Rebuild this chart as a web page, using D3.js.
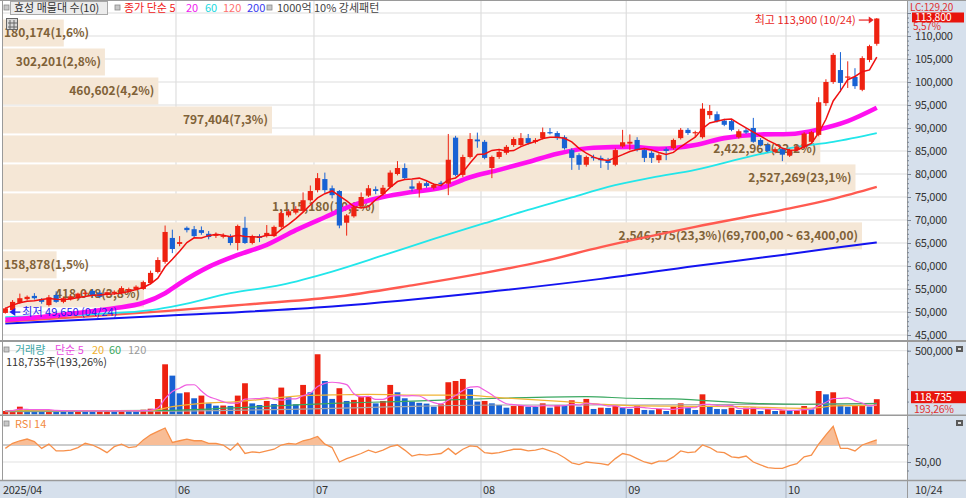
<!DOCTYPE html>
<html>
<head>
<meta charset="utf-8">
<script src="https://cdn.jsdelivr.net/npm/d3@7"></script>
<style>
  body { margin: 0; background: #fff; }
  svg { display: block; font-family: "Noto Sans CJK KR", "Noto Sans", sans-serif; }
  text { font-size: 11px; }
</style>
</head>
<body>
<svg class="chart" width="966" height="498"></svg>
<script>
// trading days per month (2025)
let monthDays = [
  ["04", [24,25,28,29,30]],
  ["05", [2,7,8,9,12,13,14,15,16,19,20,21,22,23,26,27,28,29,30]],
  ["06", [2,4,5,9,10,11,12,13,16,17,18,19,20,23,24,25,26,27,30]],
  ["07", [1,2,3,4,7,8,9,10,11,14,15,16,17,18,21,22,23,24,25,28,29,30,31]],
  ["08", [1,4,5,6,7,8,11,12,13,14,18,19,20,21,22,25,26,27,28,29]],
  ["09", [1,2,3,4,5,8,9,10,11,12,15,16,17,18,19,22,23,24,25,26,29,30]],
  ["10", [1,2,10,13,14,15,16,17,20,21,22,23,24]]
];

// daily candles
let open = [49800,50400,52000,52800,53500,52800,51500,53700,52200,52800,53000,54100,54600,54200,53700,54000,54100,54600,54900,55000,
  56300,58700,60900,66100,64800,68300,68000,67800,67000,66700,66500,66500,65000,68300,65000,66500,66500,66500,68500,71000,
  71600,72000,74300,76500,78900,76900,76300,69400,70800,73000,75300,76700,75600,77200,80000,81300,77300,76600,78000,77000,
  78100,77900,87900,79800,83700,87500,87000,81300,83700,84600,86300,86300,87800,87000,87800,89100,88900,88000,85200,84100,
  82000,83700,83500,83000,82000,86000,86600,87400,85200,84600,83000,85400,85600,87800,89600,88900,88000,92800,93000,91600,
  91500,88000,89500,90000,87400,86300,84800,85400,84000,85200,85800,87000,88500,95400,100000,102600,101000,101100,98300,104800,
  108300];
let high = [51000,52600,54000,53600,54100,53000,53700,54500,53300,53600,54200,54600,55000,54500,54500,54700,55600,55300,55800,56800,
  59000,61900,68800,67900,66500,68600,68700,68600,67600,67300,67100,66900,69000,70700,66800,66900,68900,68800,72000,72300,
  73000,76000,77500,80200,80300,77500,76500,71300,73200,76000,77600,77300,77600,80800,82800,82300,78700,78400,78400,78000,
  78500,88700,88300,84200,88900,89000,87400,84000,85300,86300,88000,88900,88700,87800,90100,90000,89300,88400,85600,84500,
  84000,84200,84000,83500,85600,89600,88600,88000,85600,85000,84500,85800,87700,90000,90000,89400,95400,95000,93600,92000,
  91800,89700,90000,92200,87800,86800,85800,85700,85500,86300,89100,89400,96700,100600,106300,106500,104500,103000,105600,108100,
  113900];
let low = [49650,50300,51800,52500,52700,51800,51200,52000,51900,52500,52800,53600,53300,53000,53400,53700,53900,54300,54700,54800,
  56000,58400,60500,62800,64300,67300,66200,66800,65800,66100,66000,64500,63400,64800,64700,65200,66200,66300,68200,70600,
  71200,71700,74000,76000,75900,74700,68200,66600,70500,72600,75000,75600,75300,77000,79700,78800,76200,74900,77000,76600,
  77300,75400,79500,79300,83400,85700,83200,79100,83300,84200,85900,86000,86400,86600,87500,88600,87400,85300,80900,80900,
  81600,82900,81300,80900,81700,85700,85200,84900,82600,82400,82400,83000,85300,87500,88500,88000,87700,92000,91200,90400,
  89300,87700,88700,86800,86000,84700,84500,82800,83700,84900,85500,86700,88200,94800,99600,97800,98700,98500,98000,104300,
  107900];
let close = [50800,52200,53000,53300,53000,52200,53200,52200,53000,53400,54000,54200,53500,53300,54300,54400,55200,55000,55500,56500,
  58500,61300,67400,63700,65200,67800,66500,67200,66300,66800,66600,65000,68700,65000,66500,66100,67200,68500,71500,71900,
  72400,74300,76300,79100,76500,75400,68800,71000,72800,75000,76900,76300,77000,80300,81300,79100,76800,78000,77400,77600,
  77800,83100,79800,83700,87600,87100,83500,83700,84800,85900,87600,87800,86700,87400,89100,88900,87800,85600,83500,82000,
  83700,83500,83000,82400,85200,86900,87000,85200,83500,83500,84100,85000,87400,89600,88900,89100,94200,93700,91500,90700,
  89600,89300,89000,87000,86300,85000,85400,84200,85200,86000,88800,89100,95600,100000,105900,99800,101200,99100,105200,107800,
  113800];
let volume = [26000,34000,60000,34000,30000,27000,33000,28000,25000,24000,33000,27000,25000,26000,28000,25000,33000,27000,24000,36000,
  44000,120000,393000,304000,165000,173000,126000,147000,86000,68000,69000,66000,147000,244000,86000,73000,105000,81000,210000,134000,
  79000,231000,173000,472000,262000,121000,205000,105000,113000,139000,142000,86000,105000,231000,173000,126000,100000,90000,84000,60000,
  79000,252000,262000,278000,199000,100000,105000,86000,73000,52000,65000,73000,60000,58000,86000,52000,73000,70000,110000,60000,
  121000,42000,52000,50000,68000,52000,42000,68000,34000,32000,42000,26000,60000,86000,52000,34000,157000,60000,42000,40000,
  52000,34000,52000,54000,26000,42000,26000,31000,29000,31000,65000,39000,183000,157000,173000,73000,60000,65000,72000,61438,
  118735];

// moving averages: [day index, value]
let ma20Pts = [[0,48300],[5,48900],[10,49800],[15,50800],[19,52000],[22,54100],[24,56200],[28,59800],[32,62400],[36,64600],
  [40,67800],[44,70600],[48,73300],[52,75000],[56,76100],[60,77000],[64,79300],[68,80900],[72,82600],[76,84400],[81,85700],
  [86,85900],[90,85500],[95,86300],[99,87800],[104,88600],[108,88700],[112,89700],[116,91500],[120,94400]];
let ma60Pts = [[0,48900],[13,49600],[20,50400],[24,51500],[31,54100],[38,55900],[45,58800],[52,62300],[59,65900],[66,69300],
  [72,72200],[78,74900],[83,77200],[89,79200],[95,80900],[103,84000],[109,85900],[114,87000],[120,88900]];
let ma120Pts = [[0,47900],[11,49000],[22,50200],[33,51600],[45,53200],[56,55800],[66,58500],[74,61000],[82,64100],[95,68500],
  [107,72200],[114,74600],[120,77200]];
let ma200Pts = [[0,47500],[22,49200],[45,51200],[66,54300],[82,57200],[95,60000],[107,62400],[114,63900],[120,65100]];

// volume moving averages
let vma20Pts = [[0,28000],[20,30000],[23,60000],[27,86000],[32,100000],[36,121000],[41,147000],[45,152000],[50,157000],[58,150000],
  [63,150000],[68,131000],[77,100000],[82,79000],[86,68000],[95,63000],[101,60000],[110,47000],[112,52000],[114,66000],[120,70000]];
let vma60Pts = [[0,27000],[22,31000],[32,52000],[45,86000],[54,100000],[68,126000],[80,139000],[86,126000],[92,121000],[103,86000],
  [110,79000],[120,84000]];
let vma120Pts = [[0,21000],[22,25000],[45,47000],[54,60000],[68,73000],[86,73000],[110,79000],[120,86000]];

// rsi 14
let rsi = [66,72,75,77,74,66,71,63,63,64,67,72,70,66,61,68,71,67,68,76,
  82,86,90,73,75,77,75,75,72,72,70,64,72,60,62,61,63,65,70,72,
  71,75,77,80,71,67,50,54,57,60,64,61,64,68,70,64,57,59,58,59,
  60,66,59,65,69,68,61,60,61,63,65,65,63,64,66,63,60,55,49,47,
  50,49,48,46.5,54,60,58,54,50,48,51,51,56,63,61,62,70,67,62,61,
  56,55,57,50,46.5,43.5,42.5,42.5,45.7,48,56,58,71,82,92,66,66,63,70,73,
  76];

// volume profile (매물대, 10 bins)
let profileFrom = [107500,101200,94900,88600,82300,76000,69700,63400,57100,50800];
let profileTo = [113800,107500,101200,94900,88600,82300,76000,69700,63400,57100];
let profileVol = [180174,302201,460602,797404,2422967,2527269,1115180,2546575,158878,418048];

// tick labels
let priceTicks = [45000,50000,55000,60000,65000,70000,75000,80000,85000,90000,95000,100000,105000,110000,115000];
let volTicks = [500000];
let rsiTicks = [50];
let monthLabels = ["06","07","08","09","10"];

let svg = d3.select("body").select(".chart");
let axisX = 907;
let panelBg = "#d6e0ec";
let upColor = "#ee2211", downColor = "#1862d4";

let dates = [];
monthDays.forEach(m => m[1].forEach(d => dates.push(m[0] + "/" + String(d).padStart(2, "0"))));

//scales
let x = d3.scaleBand().domain(dates).range([1.7, 880.4]);
let bw = x.bandwidth();
let cx = i => x(dates[i]) + bw / 2;
let yPrice = d3.scaleLinear().domain([45000, 115000]).range([335, 13]);
let yVol = d3.scaleLinear().domain([0, 500000]).range([414.3, 350.7]);
let yRsi = d3.scaleLinear().domain([50, 70]).range([462, 445]);
let fmt = d3.format(",");
let comma = s => s.replace(".", ",");

// backgrounds
svg.append("rect").attr("x", 0).attr("y", 0).attr("width", 966).attr("height", 498).attr("fill", "#fff");
svg.append("rect").attr("x", axisX).attr("y", 0).attr("width", 966 - axisX).attr("height", 498).attr("fill", panelBg);
svg.append("rect").attr("x", 0).attr("y", 481).attr("width", axisX).attr("height", 17).attr("fill", panelBg);

// clip paths for the three panels
let defs = svg.append("defs");
[["clipMain", 1, 340], ["clipVol", 342, 73], ["clipRsi", 416, 64]].forEach(c => {
  defs.append("clipPath").attr("id", c[0]).append("rect")
    .attr("x", 3).attr("y", c[1]).attr("width", axisX - 3).attr("height", c[2]);
});
defs.append("clipPath").attr("id", "clipOver70").append("rect")
  .attr("x", 3).attr("y", 416).attr("width", axisX - 3).attr("height", yRsi(70) - 416);

// gridlines
let grid = svg.append("g").attr("id", "grid");
grid.selectAll(".hgrid").data(priceTicks).enter().append("line")
  .attr("x1", 3).attr("x2", axisX).attr("y1", d => yPrice(d)).attr("y2", d => yPrice(d))
  .attr("stroke", "#dedede").attr("stroke-width", 1.2);
// first trading day of each labelled month
let monthStarts = monthLabels.map(m => dates.find(d => d.slice(0, 2) == m));
grid.selectAll(".vgrid").data(monthStarts).enter().append("line")
  .attr("x1", d => x(d)).attr("x2", d => x(d)).attr("y1", 1).attr("y2", 480)
  .attr("stroke", "#dedede").attr("stroke-width", 1.2);
grid.selectAll(".vband").data(monthStarts).enter().append("line")
  .attr("x1", d => x(d)).attr("x2", d => x(d)).attr("y1", 481).attr("y2", 498)
  .attr("stroke", "#aab4c2").attr("stroke-width", 1);
grid.append("line").attr("x1", 3).attr("x2", axisX).attr("y1", yVol(500000)).attr("y2", yVol(500000))
  .attr("stroke", "#e2e2e2");
grid.append("line").attr("x1", 3).attr("x2", axisX).attr("y1", yRsi(50)).attr("y2", yRsi(50))
  .attr("stroke", "#e2e2e2").attr("stroke-width", 1.2);
grid.append("line").attr("x1", 3).attr("x2", axisX).attr("y1", yRsi(70)).attr("y2", yRsi(70))
  .attr("stroke", "#9a9a9a").attr("stroke-width", 1.2);

// price panel
let plot = svg.append("g").attr("id", "plot").attr("clip-path", "url(#clipMain)");

// volume profile bars
let profTotal = d3.sum(profileVol);
let profMax = d3.max(profileVol);
let xProf = d3.scaleLinear().domain([0, profMax]).range([0, 859]);
let profile = profileVol.map((v, i) => ({v: v, from: profileFrom[i], to: profileTo[i]}));
plot.selectAll(".prof").data(profile).enter().append("rect")
  .attr("x", 3).attr("y", d => yPrice(d.to) + 1)
  .attr("width", d => xProf(d.v))
  .attr("height", d => yPrice(d.from) - yPrice(d.to) - 2)
  .attr("fill", "#f5e7d6");
plot.selectAll(".profLabel").data(profile).enter().append("text")
  .attr("y", d => (yPrice(d.from) + yPrice(d.to)) / 2)
  .attr("dy", "0.36em")
  .style("font-size", "12px").style("font-weight", "bold")
  .attr("fill", "#806238")
  .text(d => {
    let s = fmt(d.v) + "(" + comma(d3.format(".1f")(d.v / profTotal * 100)) + "%)";
    if (d.v == profMax) {
      s += "(" + comma(d3.format(",.2f")(d.to)) + " ~ " + comma(d3.format(",.2f")(d.from)) + ")";
    }
    return s;
  })
  .each(function(d) {
    let len = this.getComputedTextLength();
    let end = 3 + xProf(d.v) - 4;
    d3.select(this).attr("x", Math.max(4, end - len));
  });

// long moving averages
let maLine = d3.line().x(d => cx(d[0])).y(d => yPrice(d[1])).curve(d3.curveMonotoneX);
[[ma200Pts, "#1414f0", 2], [ma120Pts, "#ff5a50", 2.4], [ma60Pts, "#22e6ea", 1.8], [ma20Pts, "#ff10f0", 4.6]]
  .forEach(m => {
    plot.append("path").datum(m[0]).attr("fill", "none")
      .attr("stroke", m[1]).attr("stroke-width", m[2]).attr("stroke-linejoin", "round")
      .attr("d", maLine);
  });

// candles
let candles = dates.map((d, i) => ({i: i, o: open[i], h: high[i], l: low[i], c: close[i]}));
let candle = plot.selectAll(".candle").data(candles).enter().append("g");
candle.append("line")
  .attr("x1", d => cx(d.i)).attr("x2", d => cx(d.i))
  .attr("y1", d => yPrice(d.h)).attr("y2", d => yPrice(d.l))
  .attr("stroke", d => d.c >= d.o ? upColor : downColor).attr("stroke-width", 1);
candle.append("rect")
  .attr("x", d => cx(d.i) - 2.6).attr("width", 5.2)
  .attr("y", d => yPrice(Math.max(d.o, d.c)))
  .attr("height", d => Math.max(1.2, Math.abs(yPrice(d.o) - yPrice(d.c))))
  .attr("fill", d => d.c >= d.o ? upColor : downColor);

// ma5 from closes
let ma5 = close.map((c, i) => [i, d3.mean(close.slice(Math.max(0, i - 4), i + 1))]);
plot.append("path").datum(ma5).attr("fill", "none")
  .attr("stroke", "#f01010").attr("stroke-width", 1.5)
  .attr("d", d3.line().x(d => cx(d[0])).y(d => yPrice(d[1])));

// highest / lowest markers
let hiIdx = d3.maxIndex(high), loIdx = d3.minIndex(low);
let hiY = yPrice(high[hiIdx]) + 2;
plot.append("text").attr("x", cx(hiIdx) - 21).attr("y", hiY).attr("dy", "0.36em")
  .attr("text-anchor", "end").attr("fill", "#e82424")
  .text("최고 " + fmt(high[hiIdx]) + " (" + dates[hiIdx] + ")");
plot.append("line").attr("x1", cx(hiIdx) - 18).attr("x2", cx(hiIdx) - 6).attr("y1", hiY).attr("y2", hiY)
  .attr("stroke", "#e82424").attr("stroke-width", 1.2);
plot.append("path").attr("fill", "#e82424")
  .attr("d", "M" + (cx(hiIdx) - 3) + "," + hiY + "l-5,-3.5v7z");
let loY = yPrice(low[loIdx]) - 1.5;
plot.append("path").attr("fill", "#1e1ef0")
  .attr("d", "M" + (cx(loIdx) + 4) + "," + loY + "l6,-4v8z");
plot.append("line").attr("x1", cx(loIdx) + 9).attr("x2", cx(loIdx) + 15).attr("y1", loY).attr("y2", loY)
  .attr("stroke", "#1e1ef0").attr("stroke-width", 1.2);
plot.append("text").attr("x", cx(loIdx) + 17).attr("y", loY).attr("dy", "0.36em")
  .attr("fill", "#1e1ef0")
  .text("최저 " + fmt(low[loIdx]) + " (" + dates[loIdx] + ")");

// volume panel
let volG = svg.append("g").attr("id", "volume").attr("clip-path", "url(#clipVol)");
volG.selectAll(".vbar").data(volume).enter().append("rect")
  .attr("x", (v, i) => cx(i) - 2.9).attr("width", 5.8)
  .attr("y", v => yVol(v)).attr("height", v => yVol(0) - yVol(v))
  .attr("fill", (v, i) => i > 0 && v < volume[i - 1] ? downColor : upColor);
let vLine = d3.line().x(d => cx(d[0])).y(d => yVol(d[1])).curve(d3.curveMonotoneX);
let vma5 = volume.map((v, i) => [i, d3.mean(volume.slice(Math.max(0, i - 4), i + 1))]);
[[vma120Pts, "#a6a6a6"], [vma60Pts, "#3aa860"], [vma20Pts, "#f2b434"], [vma5, "#f060e0"]].forEach(m => {
  volG.append("path").datum(m[0]).attr("fill", "none")
    .attr("stroke", m[1]).attr("stroke-width", 1.2).attr("d", vLine);
});

// rsi panel
let rsiG = svg.append("g").attr("id", "rsi").attr("clip-path", "url(#clipRsi)");
rsiG.append("path").datum(rsi).attr("clip-path", "url(#clipOver70)")
  .attr("fill", "#f8bd96")
  .attr("d", d3.area().x((r, i) => cx(i)).y0(yRsi(70)).y1(r => yRsi(r)));
rsiG.append("path").datum(rsi).attr("fill", "none")
  .attr("stroke", "#f7904a").attr("stroke-width", 1.3)
  .attr("d", d3.line().x((r, i) => cx(i)).y(r => yRsi(r)));

// panel borders
let borders = svg.append("g").attr("id", "borders").attr("stroke", "#9a9a9a");
borders.append("line").attr("x1", 0).attr("x2", 966).attr("y1", 0.5).attr("y2", 0.5);
borders.append("line").attr("x1", 2.5).attr("x2", 2.5).attr("y1", 0).attr("y2", 481);
borders.append("line").attr("x1", axisX + 0.5).attr("x2", axisX + 0.5).attr("y1", 0).attr("y2", 498);
borders.append("line").attr("x1", 0).attr("x2", 966).attr("y1", 341).attr("y2", 341).attr("stroke-width", 2);
borders.append("line").attr("x1", 0).attr("x2", 966).attr("y1", 415.3).attr("y2", 415.3).attr("stroke-width", 1.6);
borders.append("line").attr("x1", 0).attr("x2", 966).attr("y1", 480.5).attr("y2", 480.5).attr("stroke-width", 1.6);

// right axes
let styleAxis = g => {
  g.select(".domain").remove();
  g.selectAll("line").attr("stroke", "#7a8594");
  g.selectAll("text").attr("fill", "#333").style("font-size", "11px")
    .style("font-family", "'Noto Sans CJK KR', sans-serif").style("letter-spacing", "-0.3px");
};
// the top tick sits under the last price badge, so it carries no label
let yAxis = d3.axisRight(yPrice).tickValues(priceTicks).tickSize(4).tickPadding(4)
  .tickFormat(d => d >= 115000 ? "" : fmt(d));
svg.append("g").attr("transform", translate(axisX, 0)).call(yAxis).call(styleAxis);
svg.append("g").attr("transform", translate(axisX, 0))
  .call(d3.axisRight(yPrice).tickValues(d3.range(45000, 115001, 1000)).tickSize(2).tickFormat(""))
  .call(styleAxis);
let vAxis = d3.axisRight(yVol).tickValues(volTicks).tickSize(4).tickPadding(4).tickFormat(fmt);
svg.append("g").attr("transform", translate(axisX, 0)).call(vAxis).call(styleAxis);
svg.append("g").attr("transform", translate(axisX, 0))
  .call(d3.axisRight(yVol).tickValues(d3.range(100000, 500001, 100000)).tickSize(2).tickFormat(""))
  .call(styleAxis);
let rAxis = d3.axisRight(yRsi).tickValues(rsiTicks).tickSize(4).tickPadding(4)
  .tickFormat(d => comma(d3.format(".2f")(d)));
svg.append("g").attr("transform", translate(axisX, 0)).call(rAxis).call(styleAxis);
svg.append("g").attr("transform", translate(axisX, 0))
  .call(d3.axisRight(yRsi).tickValues([40, 60, 70, 80, 90]).tickSize(2).tickFormat(""))
  .call(styleAxis);

// last price badge
let last = close.length - 1;
let chg = (close[last] / close[last - 1] - 1) * 100;
svg.append("text").attr("x", 910).attr("y", 7).attr("dy", "0.36em").attr("fill", "#e03030")
  .style("font-size", "10px").style("letter-spacing", "-0.2px").text("LC:129,20");
svg.append("rect").attr("x", 912).attr("y", 12.5).attr("width", 52).attr("height", 10)
  .attr("fill", "#e8140c");
svg.append("text").attr("x", 915).attr("y", 17.5).attr("dy", "0.36em").attr("fill", "#fff")
  .style("font-size", "10.5px").style("letter-spacing", "-0.2px").text(fmt(close[last]));
svg.append("rect").attr("x", 912).attr("y", 22.5).attr("width", 30).attr("height", 8.5).attr("fill", panelBg);
svg.append("text").attr("x", 913).attr("y", 26.5).attr("dy", "0.36em").attr("fill", "#e03030")
  .style("font-size", "10px").style("letter-spacing", "-0.2px").text(comma(d3.format(".2f")(chg)) + "%");

// last volume badge
let vchg = volume[last] / volume[last - 1] * 100;
svg.append("rect").attr("x", 911).attr("y", yVol(volume[last]) - 8).attr("width", 55).attr("height", 12)
  .attr("fill", "#e8140c");
svg.append("text").attr("x", 914).attr("y", yVol(volume[last]) - 2).attr("dy", "0.36em").attr("fill", "#fff")
  .style("letter-spacing", "-0.3px").text(fmt(volume[last]));
svg.append("text").attr("x", 914).attr("y", yVol(volume[last]) + 10).attr("dy", "0.36em").attr("fill", "#e03030")
  .style("font-size", "10.5px").style("letter-spacing", "-0.3px").text(comma(d3.format(".2f")(vchg)) + "%");

// small panel icons
[346, 420].forEach(yy => {
  svg.append("rect").attr("x", 956).attr("y", yy).attr("width", 7).attr("height", 6).attr("fill", "#5a5a5a");
  svg.append("rect").attr("x", 958).attr("y", yy + 2).attr("width", 3).attr("height", 2).attr("fill", "#ddd");
});

// legends
let bullet = (xx, yy) => svg.append("rect").attr("x", xx).attr("y", yy).attr("width", 5).attr("height", 5)
  .attr("fill", "#c8c8c8").attr("stroke", "#8a8a8a").attr("stroke-width", 0.8);
bullet(4, 5);
svg.append("rect").attr("x", 10.5).attr("y", 1.5).attr("width", 97).attr("height", 13)
  .attr("fill", "#ececec").attr("stroke", "#a8a8a8");
let legend = [
  [14, "효성 매물대 수(10)", "#333"],
  [124, "종가 단순 5", "#f02020"], [186, "20", "#f020f0"], [205, "60", "#20d8e0"],
  [223, "120", "#ff7070"], [247, "200", "#3a3af0"], [277, "1000억 10% 강세패턴", "#444"]
];
legend.forEach(l => {
  svg.append("text").attr("x", l[0]).attr("y", 8.5).attr("dy", "0.36em").attr("fill", l[2]).text(l[1]);
});
bullet(115, 5);
bullet(267, 5);

// grid icon under the legend
svg.append("rect").attr("x", 6.5).attr("y", 18.5).attr("width", 11).attr("height", 11)
  .attr("fill", "#d8d8d8").attr("stroke", "#666");
[10, 14].forEach(v => {
  svg.append("line").attr("x1", v).attr("x2", v).attr("y1", 20).attr("y2", 29).attr("stroke", "#666");
  svg.append("line").attr("x1", 8).attr("x2", 17).attr("y1", v + 13).attr("y2", v + 13).attr("stroke", "#666");
});

bullet(4, 347);
let vLegend = [[15, "거래량", "#3ea6a6"], [55, "단순 5", "#e84ce0"], [92, "20", "#f0b030"],
  [109, "60", "#3aa860"], [128, "120", "#9a9a9a"]];
vLegend.forEach(l => {
  svg.append("text").attr("x", l[0]).attr("y", 350).attr("dy", "0.36em").attr("fill", l[2]).text(l[1]);
});
svg.append("text").attr("x", 6).attr("y", 362).attr("dy", "0.36em").attr("fill", "#333")
  .text(fmt(volume[last]) + "주(" + comma(d3.format(".2f")(vchg)) + "%)");

bullet(4, 421);
svg.append("text").attr("x", 15).attr("y", 424).attr("dy", "0.36em").attr("fill", "#f28a40").text("RSI 14");

// bottom date labels
svg.append("text").attr("x", 3).attr("y", 490).attr("dy", "0.36em").attr("fill", "#333")
  .style("letter-spacing", "-0.3px").text("2025/" + dates[0].slice(0, 2));
svg.selectAll(".month").data(monthStarts).enter().append("text")
  .attr("x", d => x(d) + 2).attr("y", 490).attr("dy", "0.36em").attr("fill", "#333")
  .text(d => d.slice(0, 2));
svg.append("text").attr("x", 915).attr("y", 490).attr("dy", "0.36em").attr("fill", "#333")
  .style("letter-spacing", "-0.3px").text(dates[last]);

function translate(x, y) {
  return 'translate(' + x + ',' + y + ')';
}
</script>
</body>
</html>
